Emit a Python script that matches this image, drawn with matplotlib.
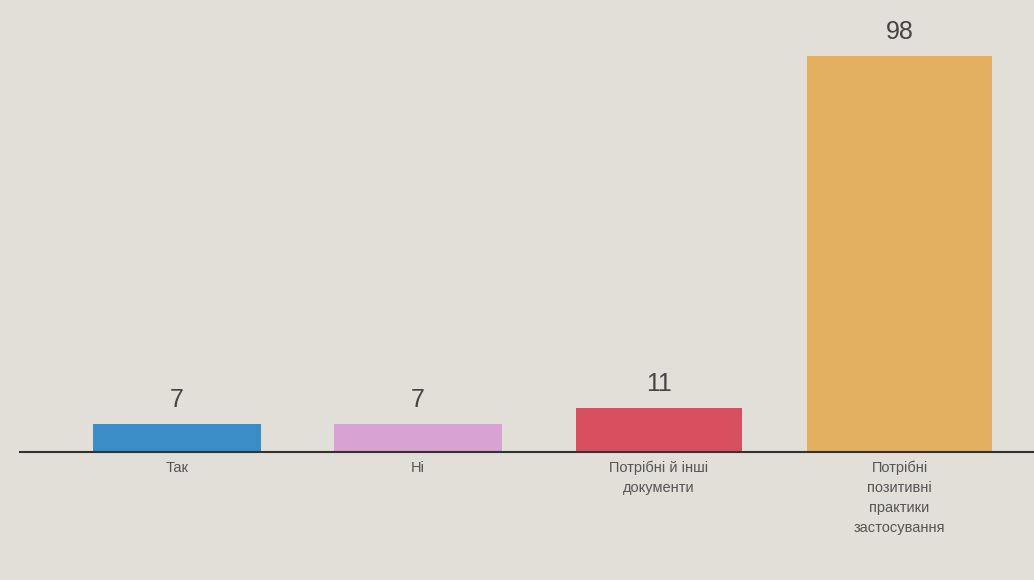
import matplotlib
matplotlib.use("Agg")
import matplotlib.pyplot as plt

categories = ["Так", "Ні", "Потрібні й інші\nдокументи", "Потрібні\nпозитивні\nпрактики\nзастосування"]
values = [7, 7, 11, 98]
colors = ["#3a8dc6", "#d8a2d2", "#d8505f", "#e3b062"]

plt.rcParams['font.family'] = ['Liberation Sans', 'DejaVu Sans']
fig = plt.figure(figsize=(10.34, 5.8), dpi=100)
fig.patch.set_facecolor("#e2dfd9")
ax = fig.add_axes([0.019, 0.22, 0.981, 0.698])
ax.set_facecolor("#e2dfd9")
x = list(range(len(values)))
ax.bar(x, values, width=[0.70, 0.70, 0.69, 0.77], color=colors, zorder=2)
for xi, v in zip(x, values):
    ax.text(xi, v + 3, str(v), ha="center", va="bottom", fontsize=18, color="#444444")
ax.set_xlim(-0.654, 3.558)
ax.set_ylim(0, 100)
for s in ["top", "right", "left"]:
    ax.spines[s].set_visible(False)
ax.spines["bottom"].set_color("#333333")
ax.spines["bottom"].set_linewidth(1.5)
ax.set_yticks([])
ax.set_xticks(x)
ax.set_xticklabels(categories, fontsize=10.5, color="#555555", linespacing=1.55)
ax.tick_params(axis="x", length=0, pad=6)
fig.savefig("out.png", dpi=100, facecolor=fig.get_facecolor())
